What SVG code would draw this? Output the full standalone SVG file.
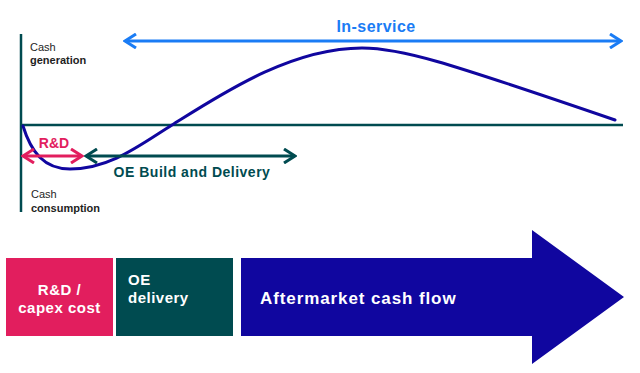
<svg xmlns="http://www.w3.org/2000/svg" width="640" height="373" viewBox="0 0 640 373">
<style>
text{font-family:"Liberation Sans",Arial,sans-serif}
.ax{stroke:#004b50;stroke-width:2.5;fill:none}
.small{font-size:11px;fill:#1e1e1e}
.b{font-weight:bold}
.wt{fill:#fff;font-weight:bold}
</style>
<defs>
<marker id="hb" viewBox="0 0 14 16" refX="12" refY="8" markerWidth="14" markerHeight="16" markerUnits="userSpaceOnUse" orient="auto-start-reverse"><path d="M1,1 L12,8 L1,15" fill="none" stroke="#1a7cf5" stroke-width="3"/></marker>
<marker id="hp" viewBox="0 0 14 16" refX="12" refY="8" markerWidth="14" markerHeight="16" markerUnits="userSpaceOnUse" orient="auto-start-reverse"><path d="M1,1 L12,8 L1,15" fill="none" stroke="#e21e5e" stroke-width="3"/></marker>
<marker id="ht" viewBox="0 0 14 16" refX="12" refY="8" markerWidth="14" markerHeight="16" markerUnits="userSpaceOnUse" orient="auto-start-reverse"><path d="M1,1 L12,8 L1,15" fill="none" stroke="#004b50" stroke-width="3"/></marker>
</defs>
<rect width="640" height="373" fill="#fff"/>
<g id="axes">
<line class="ax" x1="21" y1="34" x2="21" y2="212"/>
<line class="ax" x1="21" y1="125" x2="623" y2="125"/>
<text class="small" x="30" y="51">Cash</text>
<text class="small b" x="30" y="64">generation</text>
<text class="small" x="31" y="198">Cash</text>
<text class="small b" x="31" y="212">consumption</text>
</g>
<g id="curve">
<path d="M23,126 C31,152 44,169 70,169 C110,169 140,145 172,125 C220,95 290,48 362,48 C400,48 440,60 615,120" fill="none" stroke="#10069f" stroke-width="3" stroke-linecap="round"/>
</g>
<g id="connectors">
<line x1="125" y1="41" x2="621" y2="41" stroke="#1a7cf5" stroke-width="3" marker-start="url(#hb)" marker-end="url(#hb)"/>
<line x1="23" y1="156" x2="82" y2="156" stroke="#e21e5e" stroke-width="3" marker-start="url(#hp)" marker-end="url(#hp)"/>
<line x1="86" y1="156" x2="295" y2="156" stroke="#004b50" stroke-width="3" marker-start="url(#ht)" marker-end="url(#ht)"/>
</g>
<g id="label-inservice"><text x="376" y="32" text-anchor="middle" font-size="16" font-weight="bold" fill="#1a7cf5" letter-spacing="0.45">In-service</text></g>
<g id="label-rd"><text x="54" y="148" text-anchor="middle" font-size="14" font-weight="bold" fill="#e21e5e">R&amp;D</text></g>
<g id="label-oe"><text x="192" y="177" text-anchor="middle" font-size="14" font-weight="bold" fill="#004b50" letter-spacing="0.5">OE Build and Delivery</text></g>
<g id="box-rd">
<rect x="6" y="258" width="107" height="78" fill="#e21e5e"/>
<text class="wt" x="59.5" y="295" text-anchor="middle" font-size="15" letter-spacing="0.5">R&amp;D /</text>
<text class="wt" x="59.5" y="313" text-anchor="middle" font-size="15" letter-spacing="0.5">capex cost</text>
</g>
<g id="box-oe">
<rect x="116" y="258" width="117" height="78" fill="#004b50"/>
<text class="wt" x="128" y="285" font-size="15" letter-spacing="0.5">OE</text>
<text class="wt" x="128" y="303" font-size="15" letter-spacing="0.5">delivery</text>
</g>
<g id="box-aftermarket">
<path d="M241,258 H532 V230 L624,297 L532,364 V336 H241 Z" fill="#10069f"/>
<text class="wt" x="260" y="304" font-size="17" letter-spacing="0.9">Aftermarket cash flow</text>
</g>
</svg>
